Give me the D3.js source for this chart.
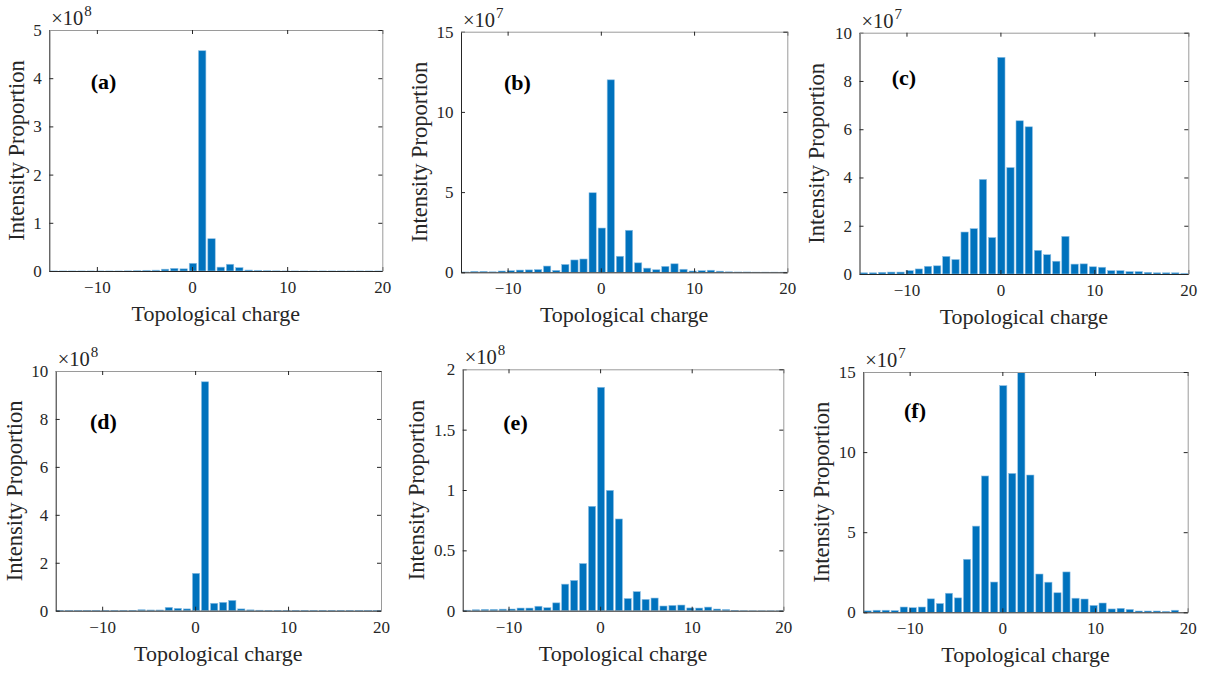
<!DOCTYPE html>
<html><head><meta charset="utf-8">
<script src="https://cdn.jsdelivr.net/npm/d3@7"></script>
<style>
body{margin:0;background:#fff;}
svg{display:block;}
text{font-family:"Liberation Serif","Times New Roman",serif;fill:#262626;}
.tick text{font-size:17px;}
.xlab{font-size:22px;}
.ylab{font-size:22.5px;}
.plab{font-size:22px;font-weight:bold;fill:#000;}
.expo{font-size:20.5px;}
.expsup{font-size:15px;}
</style></head><body>
<svg id="chart" width="1210" height="673"></svg>
<script>
// Histogram bin centres (topological charge), shared by all panels
const binCenters = [-14.53, -13.56, -12.58, -11.61, -10.63, -9.66, -8.68, -7.71, -6.73, -5.76,
  -4.78, -3.81, -2.83, -1.86, -0.88, 0.10, 1.07, 2.05, 3.02, 4.00,
  4.97, 5.95, 6.92, 7.90, 8.87, 9.85, 10.82, 11.80, 12.77, 13.75,
  14.72, 15.70, 16.67, 17.65, 18.62, 19.60];

// Values in units of the panel's exponent (x10^8 or x10^7)
const valuesA = [0.001, 0.001, 0.001, 0.001, 0.001, 0.001, 0.001, 0.001, 0.003, 0.006,
  0.015, 0.018, 0.038, 0.055, 0.045, 0.16, 4.57, 0.67, 0.08, 0.14,
  0.07, 0.02, 0.015, 0.006, 0.003, 0.001, 0.001, 0.001, 0.001, 0.001,
  0.001, 0.001, 0.001, 0.001, 0.001, 0.001];
const valuesB = [0.02, 0.06, 0.06, 0.03, 0.08, 0.1, 0.14, 0.15, 0.17, 0.39,
  0.12, 0.49, 0.77, 0.83, 4.96, 2.76, 12.0, 1.0, 2.62, 0.59,
  0.26, 0.16, 0.37, 0.53, 0.19, 0.08, 0.1, 0.13, 0.07, 0.03,
  0.02, 0.02, 0.01, 0.01, 0.01, 0.01];
const valuesC = [0.05, 0.05, 0.07, 0.08, 0.08, 0.14, 0.21, 0.32, 0.34, 0.73,
  0.6, 1.74, 1.88, 3.92, 1.51, 8.98, 4.41, 6.35, 6.1, 0.98,
  0.8, 0.53, 1.56, 0.41, 0.42, 0.3, 0.28, 0.14, 0.14, 0.1,
  0.1, 0.07, 0.05, 0.05, 0.05, 0.03];
const valuesD = [0.002, 0.002, 0.002, 0.002, 0.002, 0.002, 0.002, 0.005, 0.015, 0.04,
  0.03, 0.03, 0.14, 0.1, 0.075, 1.56, 9.55, 0.31, 0.35, 0.43,
  0.075, 0.035, 0.02, 0.005, 0.002, 0.002, 0.002, 0.002, 0.002, 0.002,
  0.002, 0.002, 0.002, 0.002, 0.002, 0.002];
const valuesE = [0.004, 0.008, 0.011, 0.011, 0.013, 0.014, 0.022, 0.022, 0.037, 0.025,
  0.065, 0.22, 0.251, 0.391, 0.865, 1.851, 0.997, 0.76, 0.101, 0.158,
  0.094, 0.105, 0.039, 0.044, 0.047, 0.023, 0.022, 0.03, 0.014, 0.01,
  0.003, 0.002, 0.001, 0.001, 0.001, 0.001];
const valuesF = [0.09, 0.13, 0.13, 0.11, 0.33, 0.29, 0.33, 0.84, 0.55, 1.19,
  0.9, 3.31, 5.38, 8.51, 1.89, 14.15, 8.67, 15.2, 8.57, 2.39,
  1.88, 1.22, 2.52, 0.88, 0.83, 0.43, 0.58, 0.21, 0.25, 0.18,
  0.08, 0.08, 0.08, 0.06, 0.13, 0];

const xDomain = [-15, 20];
const xTicks = [-10, 0, 10, 20];
const yTicksA = [0, 1, 2, 3, 4, 5];
const yTicksB = [0, 5, 10, 15];
const yTicksC = [0, 2, 4, 6, 8, 10];
const yTicksD = [0, 2, 4, 6, 8, 10];
const yTicksE = [0, 0.5, 1, 1.5, 2];
const yTicksF = [0, 5, 10, 15];
const exponents = [8, 7, 7, 8, 8, 7];
const panelLabels = ["(a)", "(b)", "(c)", "(d)", "(e)", "(f)"];
const xLabel = "Topological charge";
const yLabel = "Intensity Proportion";

const seriesList = [valuesA, valuesB, valuesC, valuesD, valuesE, valuesF];
const yTickList = [yTicksA, yTicksB, yTicksC, yTicksD, yTicksE, yTicksF];

// layout: plot box [left, top, right, bottom], label offset, y-label baseline offset
const layout = [
  {box: [49.3, 30, 382.3, 271], lab: [41.4, 58.5], yl: -25},
  {box: [461, 31.7, 787.3, 272.3], lab: [43, 58.8], yl: -34},
  {box: [859.5, 32.7, 1188.3, 274], lab: [32.2, 52.5], yl: -35.5},
  {box: [55.7, 371, 381, 610.7], lab: [34.3, 57.5], yl: -33.7},
  {box: [462.7, 369.3, 783.3, 610.7], lab: [40.6, 61.2], yl: -39},
  {box: [863.3, 372, 1187.7, 612.3], lab: [40.7, 46], yl: -34}
];

const barWidth = 0.78;
const svg = d3.select("#chart");
const fmt = d => (d < 0 ? "\u2212" + Math.abs(d) : String(d));

seriesList.forEach((vals, i) => {
  const L = layout[i];
  const [l, t, r, b] = L.box;
  const w = r - l, h = b - t;
  const yTicks = yTickList[i];
  const yMax = yTicks[yTicks.length - 1];
  const g = svg.append("g").attr("transform", `translate(${l},${t})`);
  const x = d3.scaleLinear().domain(xDomain).range([0, w]);
  const y = d3.scaleLinear().domain([0, yMax]).range([h, 0]);

  const cid = "clip" + i;
  g.append("clipPath").attr("id", cid).append("rect")
    .attr("x", 0).attr("y", 0).attr("width", w).attr("height", h);

  g.append("g").attr("clip-path", `url(#${cid})`)
    .selectAll("rect").data(vals.map((v, k) => ({c: binCenters[k], v})))
    .join("rect")
    .attr("x", d => x(d.c - barWidth / 2))
    .attr("width", d => x(d.c + barWidth / 2) - x(d.c - barWidth / 2))
    .attr("y", d => y(d.v))
    .attr("height", d => Math.max(0, h - y(d.v)))
    .attr("fill", "#0072bd")
    .attr("stroke", "#8fc0e4")
    .attr("stroke-width", 0.6);

  // axes
  const ax = g.append("g").attr("transform", `translate(0,${h})`)
    .call(d3.axisBottom(x).tickValues(xTicks).tickSize(-4).tickSizeOuter(0).tickPadding(10).tickFormat(fmt));
  const ay = g.append("g")
    .call(d3.axisLeft(y).tickValues(yTicks).tickSize(-4).tickSizeOuter(0).tickPadding(7.5).tickFormat(fmt));
  const at = g.append("g")
    .call(d3.axisTop(x).tickValues(xTicks).tickSize(-4).tickSizeOuter(0).tickFormat(""));
  const ar = g.append("g").attr("transform", `translate(${w},0)`)
    .call(d3.axisRight(y).tickValues(yTicks).tickSize(-4).tickSizeOuter(0).tickFormat(""));
  [ax, ay].forEach(a => { a.select(".domain").attr("stroke", "#262626").attr("stroke-width", 1); });
  [at, ar].forEach(a => { a.select(".domain").attr("stroke", "#9a9a9a").attr("stroke-width", 1); });
  [ax, ay, at, ar].forEach(a => a.selectAll(".tick line").attr("stroke", "#262626"));
  [ax, ay].forEach(a => a.selectAll(".tick text").attr("fill", "#262626"));

  // exponent
  const e1 = g.append("text").attr("class", "expo").attr("x", 2).attr("y", -5).text("\u00d710");
  const ew = e1.node().getComputedTextLength();
  g.append("text").attr("class", "expsup").attr("x", 2 + ew + 1).attr("y", -14).text(exponents[i]);

  // labels
  g.append("text").attr("class", "xlab").attr("text-anchor", "middle")
    .attr("x", w / 2).attr("y", h + 50).text(xLabel);
  g.append("text").attr("class", "ylab").attr("text-anchor", "middle")
    .attr("transform", `translate(${L.yl},${h / 2}) rotate(-90)`).text(yLabel);
  g.append("text").attr("class", "plab").attr("x", L.lab[0]).attr("y", L.lab[1]).text(panelLabels[i]);
});
</script>
</body></html>
